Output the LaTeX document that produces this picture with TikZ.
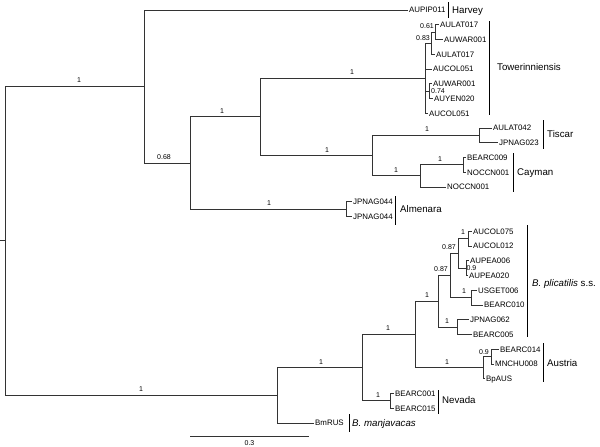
\documentclass[tikz,border=0pt]{standalone}
\usepackage{fontspec}
\setmainfont{Liberation Sans}
\begin{document}
\begin{tikzpicture}[x=1pt,y=-1pt,
  br/.style={draw=black!80, line width=0.9pt},
  tip/.style={anchor=west, inner xsep=1pt, inner ysep=0pt, text height=5.6pt, text depth=0pt, font=\fontsize{7.9}{8}\selectfont},
  supp/.style={anchor=south, inner sep=0pt, text height=5pt, text depth=0pt, font=\fontsize{7}{7}\selectfont},
  supc/.style={anchor=center, inner sep=0pt, text height=5pt, text depth=0pt, font=\fontsize{7}{7}\selectfont},
  clade/.style={anchor=west, inner sep=0pt, text height=7pt, text depth=0pt, font=\fontsize{9.7}{11}\selectfont},
  cbar/.style={draw=black, line width=1pt}]
\useasboundingbox[fill=white] (0,0) rectangle (600,447);
% internal nodes
\coordinate (stub) at (0,240.92);
\coordinate (root) at (5,240.92);
\coordinate (nA) at (144,86.5);
\coordinate (nB) at (190,163.03);
\coordinate (nC) at (260,116.93);
\coordinate (tow) at (425,78.2);
\coordinate (p083) at (431,43.19);
\coordinate (p061) at (435,32.125);
\coordinate (p074) at (429,91.125);
\coordinate (nD) at (372,155.66);
\coordinate (tis) at (479,135.375);
\coordinate (cay) at (420,175.94);
\coordinate (cayi) at (463,164.875);
\coordinate (alm) at (346,209.125);
\coordinate (nE) at (277,395.34);
\coordinate (nF) at (362,367.69);
\coordinate (nG) at (415,334.5);
\coordinate (nH) at (438,301.31);
\coordinate (nI) at (450,275.5);
\coordinate (nJ) at (458,253.375);
\coordinate (nK) at (468,238.625);
\coordinate (nL) at (466,268.125);
\coordinate (nM) at (471,297.625);
\coordinate (nN) at (457,327.125);
\coordinate (aus) at (483,367.69);
\coordinate (ausi) at (491,356.625);
\coordinate (nev) at (390,400.875);
% leaves
\node[tip] (t0) at (408,10) {AUPIP011};
\node[tip] (t1) at (439,24.75) {AULAT017};
\node[tip] (t2) at (443,39.5) {AUWAR001};
\node[tip] (t3) at (435,54.25) {AULAT017};
\node[tip] (t4) at (432,69) {AUCOL051};
\node[tip] (t5) at (432,83.75) {AUWAR001};
\node[tip] (t6) at (433,98.5) {AUYEN020};
\node[tip] (t7) at (428,113.25) {AUCOL051};
\node[tip] (t8) at (492,128) {AULAT042};
\node[tip] (t9) at (498,142.75) {JPNAG023};
\node[tip] (t10) at (466,157.5) {BEARC009};
\node[tip] (t11) at (466,172.25) {NOCCN001};
\node[tip] (t12) at (446,187) {NOCCN001};
\node[tip] (t13) at (352,201.75) {JPNAG044};
\node[tip] (t14) at (352,216.5) {JPNAG044};
\node[tip] (t15) at (472,231.25) {AUCOL075};
\node[tip] (t16) at (472,246) {AUCOL012};
\node[tip] (t17) at (469,260.75) {AUPEA006};
\node[tip] (t18) at (468,275.5) {AUPEA020};
\node[tip] (t19) at (477,290.25) {USGET006};
\node[tip] (t20) at (483,305) {BEARC010};
\node[tip] (t21) at (469,319.75) {JPNAG062};
\node[tip] (t22) at (472,334.5) {BEARC005};
\node[tip] (t23) at (499,349.25) {BEARC014};
\node[tip] (t24) at (494,364) {MNCHU008};
\node[tip] (t25) at (485,378.75) {BpAUS};
\node[tip] (t26) at (394,393.5) {BEARC001};
\node[tip] (t27) at (394,408.25) {BEARC015};
\node[tip] (t28) at (314,423) {BmRUS};
% branches
\draw[br] (stub) -- (root);
\draw[br] (root) |- (nA);
\draw[br] (root) |- (nE);
\draw[br] (nA) |- (t0.west);
\draw[br] (nA) |- (nB);
\draw[br] (nB) |- (nC);
\draw[br] (nB) |- (alm);
\draw[br] (nC) |- (tow);
\draw[br] (nC) |- (nD);
\draw[br] (tow) |- (p083);
\draw[br] (tow) |- (t4.west);
\draw[br] (tow) |- (p074);
\draw[br] (tow) |- (t7.west);
\draw[br] (p083) |- (p061);
\draw[br] (p083) |- (t3.west);
\draw[br] (p061) |- (t1.west);
\draw[br] (p061) |- (t2.west);
\draw[br] (p074) |- (t5.west);
\draw[br] (p074) |- (t6.west);
\draw[br] (nD) |- (tis);
\draw[br] (nD) |- (cay);
\draw[br] (tis) |- (t8.west);
\draw[br] (tis) |- (t9.west);
\draw[br] (cay) |- (cayi);
\draw[br] (cay) |- (t12.west);
\draw[br] (cayi) |- (t10.west);
\draw[br] (cayi) |- (t11.west);
\draw[br] (alm) |- (t13.west);
\draw[br] (alm) |- (t14.west);
\draw[br] (nE) |- (nF);
\draw[br] (nE) |- (t28.west);
\draw[br] (nF) |- (nG);
\draw[br] (nF) |- (nev);
\draw[br] (nG) |- (nH);
\draw[br] (nG) |- (aus);
\draw[br] (nH) |- (nI);
\draw[br] (nH) |- (nN);
\draw[br] (nI) |- (nJ);
\draw[br] (nI) |- (nM);
\draw[br] (nJ) |- (nK);
\draw[br] (nJ) |- (nL);
\draw[br] (nK) |- (t15.west);
\draw[br] (nK) |- (t16.west);
\draw[br] (nL) |- (t17.west);
\draw[br] (nL) |- (t18.west);
\draw[br] (nM) |- (t19.west);
\draw[br] (nM) |- (t20.west);
\draw[br] (nN) |- (t21.west);
\draw[br] (nN) |- (t22.west);
\draw[br] (aus) |- (ausi);
\draw[br] (aus) |- (t25.west);
\draw[br] (ausi) |- (t23.west);
\draw[br] (ausi) |- (t24.west);
\draw[br] (nev) |- (t26.west);
\draw[br] (nev) |- (t27.west);
% support values
\node[supp] (s1) at (79,83) {1};
\node[supp] (s2) at (141,391.8) {1};
\node[supp] (s3) at (164,159.5) {0.68};
\node[supp] (s4) at (222,113.4) {1};
\node[supp] (s5) at (269,205.6) {1};
\node[supp] (s6) at (352,74.7) {1};
\node[supp] (s7) at (327,152.2) {1};
\node[supp] (s8) at (427,131.9) {1};
\node[supp] (s9) at (396,172.4) {1};
\node[supp] (s10) at (440,161.4) {1};
\node[supp] (s11) at (321,364.2) {1};
\node[supp] (s12) at (378,397.4) {1};
\node[supp] (s13) at (388,331) {1};
\node[supp] (s14) at (447,364.2) {1};
\node[supp] (s15) at (427,297.8) {1};
\node[supp] (s16) at (447,323.6) {1};
\node[supp] (s17) at (464,294.1) {1};
\node[supp] (s18) at (463,235.1) {1};
\node[supp] (s19) at (441,272) {0.87};
\node[supp] (s20) at (449,249.9) {0.87};
\node[supc] (s21) at (423,38) {0.83};
\node[supc] (s22) at (427,26) {0.61};
\node[supc] (s23) at (438,90.5) {0.74};
\node[supc] (s24) at (471.5,267.5) {0.9};
\node[supc] (s25) at (484,352) {0.9};
% clade bars and labels
\draw[cbar] (448,2) -- (448,18);
\node[clade] (c1) at (452,10) {Harvey};
\draw[cbar] (489,21) -- (489,115);
\node[clade] (c2) at (497,67) {Towerinniensis};
\draw[cbar] (543,120) -- (543,149);
\node[clade] (c3) at (547,134) {Tiscar};
\draw[cbar] (513,153) -- (513,192);
\node[clade] (c4) at (517,172) {Cayman};
\draw[cbar] (395,196) -- (395,225);
\node[clade] (c5) at (400,209) {Almenara};
\draw[cbar] (527,225) -- (527,337);
\node[clade] (c6) at (532,283) {\textit{B. plicatilis} s.s.};
\draw[cbar] (543,343) -- (543,382);
\node[clade] (c7) at (547,363) {Austria};
\draw[cbar] (438,390) -- (438,414);
\node[clade] (c8) at (442,400) {Nevada};
\draw[cbar] (349,414) -- (349,432);
\node[clade] (c9) at (352,423) {\textit{B. manjavacas}};
% scale bar
\coordinate (sb1) at (190,436);
\coordinate (sb2) at (309,436);
\draw[br] (sb1) -- (sb2);
\node[supc] (sbl) at (249.5,443) {0.3};
\end{tikzpicture}
\end{document}
